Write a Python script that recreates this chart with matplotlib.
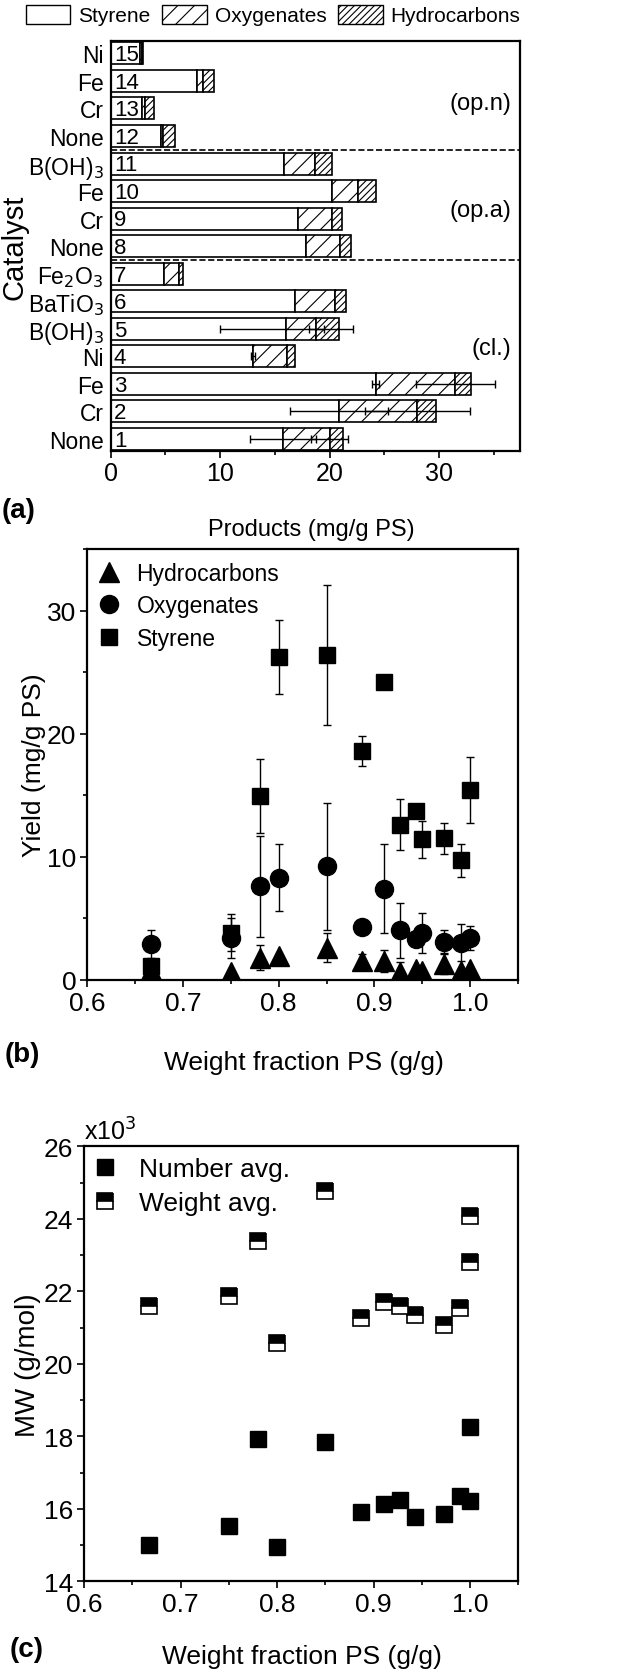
import numpy as np
import matplotlib
matplotlib.use('Agg')
import matplotlib.pyplot as plt
from matplotlib.patches import Patch
from matplotlib.lines import Line2D
from matplotlib.ticker import MultipleLocator, FormatStrFormatter

plt.rcParams['font.family'] = ['Liberation Sans', 'DejaVu Sans']
plt.rcParams['hatch.linewidth'] = 0.8
plt.rcParams['axes.linewidth'] = 1.6

# Panel (a): product yields per catalyst (bar 1 at the bottom)
bar_numbers = list(range(1, 16))
catalysts = ['None', 'Cr', 'Fe', 'Ni', 'B(OH)$_3$', 'BaTiO$_3$', 'Fe$_2$O$_3$',
             'None', 'Cr', 'Fe', 'B(OH)$_3$', 'None', 'Cr', 'Fe', 'Ni']
styrene = [15.75, 20.85, 24.2, 13.0, 16.05, 16.85, 4.9, 17.85, 17.1, 20.25, 15.8, 4.6, 2.9, 7.85, 2.7]
oxygenates = [4.25, 7.15, 7.3, 3.15, 2.75, 3.65, 1.35, 3.1, 3.15, 2.35, 2.85, 0.2, 0.2, 0.55, 0.15]
hydrocarbons = [1.2, 1.7, 1.45, 0.7, 2.1, 1.0, 0.35, 1.05, 0.85, 1.6, 1.55, 1.1, 0.85, 1.0, 0.15]
styrene_err = [3.05, 4.5, 0.35, 0.2, 6.05, 0, 0, 0, 0, 0, 0, 0, 0, 0, 0]
oxygenates_err = [1.7, 4.8, 3.6, 0, 0.7, 0, 0, 0, 0, 0, 0, 0, 0, 0, 0]
group_names = ['(cl.)', '(op.a)', '(op.n)']
group_pos = [4.3, 9.3, 13.2]
group_breaks = [7.5, 11.5]

# Panel (b): yields vs weight fraction PS
frac_b = [0.667, 0.75, 0.78, 0.80, 0.85, 0.887, 0.91, 0.927, 0.943, 0.95, 0.973, 0.99, 1.0]
styrene_b = [1.1, 3.8, 14.9, 26.2, 26.4, 18.6, 24.2, 12.6, 13.7, 11.4, 11.5, 9.7, 15.4]
styrene_b_err = [0, 1.5, 3.0, 3.0, 5.7, 1.2, 0, 2.05, 0, 1.5, 1.25, 1.35, 2.7]
oxy_b = [2.9, 3.4, 7.6, 8.3, 9.2, 4.3, 7.4, 4.0, 3.3, 3.8, 3.1, 3.0, 3.4]
oxy_b_err = [1.1, 1.6, 4.1, 2.7, 5.2, 0, 3.6, 2.2, 0, 1.65, 0.9, 1.5, 1.0]
hydro_b = [0.8, 0.6, 1.8, 1.9, 2.6, 1.5, 1.5, 0.6, 0.9, 0.7, 1.3, 0.7, 0.9]
hydro_b_err = [0, 0, 1.0, 0, 1.2, 0.6, 0.9, 0.8, 0, 0, 0.8, 0, 0]

# Panel (c): molecular weight (x10^3 g/mol)
frac_c = [0.667, 0.75, 0.78, 0.80, 0.85, 0.887, 0.911, 0.927, 0.943, 0.973, 0.99, 1.0, 1.0]
mn = [15.0, 15.53, 17.93, 14.94, 17.85, 15.9, 16.13, 16.25, 15.78, 15.86, 16.36, 18.26, 16.22]
mw = [21.6, 21.86, 23.4, 20.57, 24.78, 21.26, 21.71, 21.6, 21.35, 21.08, 21.53, 24.07, 22.82]

fig = plt.figure(figsize=(6.25, 16.81), dpi=100)

# ---------------- (a) ----------------
ax1 = fig.add_axes([0.177, 0.731, 0.655, 0.244])
y = np.array(bar_numbers)
s = np.array(styrene)
o = np.array(oxygenates)
h = np.array(hydrocarbons)
ax1.barh(y, s, height=0.8, color='white', edgecolor='black', linewidth=1.2)
ax1.barh(y, o, left=s, height=0.8, color='white', edgecolor='black', linewidth=1.2, hatch='//')
ax1.barh(y, h, left=s + o, height=0.8, color='white', edgecolor='black', linewidth=1.2, hatch='/////')

se = np.array(styrene_err)
oe = np.array(oxygenates_err)
m = se > 0
ax1.errorbar(s[m], y[m], xerr=se[m], fmt='none', ecolor='black', elinewidth=1, capsize=3)
m = oe > 0
ax1.errorbar((s + o)[m], y[m], xerr=oe[m], fmt='none', ecolor='black', elinewidth=1, capsize=3)

for n in bar_numbers:
    ax1.text(0.3, n - 0.05, str(n), fontsize=16, va='center', ha='left')
for yb in group_breaks:
    ax1.axhline(yb, color='black', linestyle='--', linewidth=1.2)
for name, pos in zip(group_names, group_pos):
    ax1.text(36.6, pos, name, fontsize=17, ha='right', va='center')

ax1.set_xlim(0, 37.4)
ax1.set_ylim(0.55, 15.45)
ax1.set_yticks(y)
ax1.set_yticklabels(catalysts, fontsize=16.5)
ax1.tick_params(axis='y', length=0, pad=5)
ax1.xaxis.set_major_locator(MultipleLocator(10))
ax1.xaxis.set_minor_locator(MultipleLocator(5))
ax1.tick_params(axis='x', which='major', direction='out', length=5, width=1.2, labelsize=18, pad=2)
ax1.tick_params(axis='x', which='minor', direction='out', length=3, width=1.2)
ax1.set_ylabel('Catalyst', fontsize=21)
ax1.yaxis.set_label_coords(-0.2, 0.5)

handles = [Patch(facecolor='white', edgecolor='black', label='Styrene'),
           Patch(facecolor='white', edgecolor='black', hatch='//', label='Oxygenates'),
           Patch(facecolor='white', edgecolor='black', hatch='/////', label='Hydrocarbons')]
fig.legend(handles=handles, loc='center', bbox_to_anchor=(273 / 625, 1 - 16 / 1681), ncol=3,
           frameon=False, fontsize=15, handlelength=2.15, handleheight=1.05,
           handletextpad=0.38, columnspacing=0.55, borderpad=0)

fig.text(2 / 625, 1 - 511 / 1681, '(a)', fontsize=20, fontweight='bold', va='center', ha='left')
fig.text(311 / 625, 1 - 530 / 1681, 'Products (mg/g PS)', fontsize=17, va='center', ha='center')

# ---------------- (b) ----------------
ax2 = fig.add_axes([0.1397, 0.4166, 0.689, 0.2562])
ax2.errorbar(frac_b, hydro_b, yerr=hydro_b_err, fmt='^', color='black', markersize=14,
             ecolor='black', elinewidth=1, capsize=3)
ax2.errorbar(frac_b, oxy_b, yerr=oxy_b_err, fmt='o', color='black', markersize=13,
             ecolor='black', elinewidth=1, capsize=3)
ax2.errorbar(frac_b, styrene_b, yerr=styrene_b_err, fmt='s', color='black', markersize=11,
             ecolor='black', elinewidth=1, capsize=3)
ax2.set_xlim(0.6, 1.05)
ax2.set_ylim(0, 35)
ax2.xaxis.set_major_locator(MultipleLocator(0.1))
ax2.xaxis.set_minor_locator(MultipleLocator(0.05))
ax2.yaxis.set_major_locator(MultipleLocator(10))
ax2.yaxis.set_minor_locator(MultipleLocator(5))
ax2.xaxis.set_major_formatter(FormatStrFormatter('%.1f'))
ax2.tick_params(which='major', direction='out', length=5, width=1.2, labelsize=19, pad=3)
ax2.tick_params(which='minor', direction='out', length=3, width=1.2)
ax2.set_ylabel('Yield (mg/g PS)', fontsize=19)
ax2.yaxis.set_label_coords(-0.095, 0.5)
hb = [Line2D([], [], marker='^', color='black', linestyle='none', markersize=14),
      Line2D([], [], marker='o', color='black', linestyle='none', markersize=13),
      Line2D([], [], marker='s', color='black', linestyle='none', markersize=11)]
ax2.legend(hb, ['Hydrocarbons', 'Oxygenates', 'Styrene'], loc='upper left', frameon=False,
           fontsize=16.5, handlelength=0.8, handletextpad=0.8, labelspacing=0.42,
           borderaxespad=0.15)

fig.text(5 / 625, 1 - 1055 / 1681, '(b)', fontsize=20, fontweight='bold', va='center', ha='left')
fig.text(304 / 625, 1 - 1063 / 1681, 'Weight fraction PS (g/g)', fontsize=19, va='center', ha='center')

# ---------------- (c) ----------------
ax3 = fig.add_axes([0.1344, 0.0587, 0.695, 0.2588])
ax3.plot(frac_c, mn, 's', color='black', markersize=12, label='Number avg.')
ax3.plot(frac_c, mw, 's', markersize=12, fillstyle='top', markerfacecolor='black',
         markerfacecoloralt='white', markeredgecolor='black', markeredgewidth=1.2, label='Weight avg.')
ax3.set_xlim(0.6, 1.05)
ax3.set_ylim(14, 26)
ax3.xaxis.set_major_locator(MultipleLocator(0.1))
ax3.xaxis.set_minor_locator(MultipleLocator(0.05))
ax3.yaxis.set_major_locator(MultipleLocator(2))
ax3.yaxis.set_minor_locator(MultipleLocator(1))
ax3.xaxis.set_major_formatter(FormatStrFormatter('%.1f'))
ax3.tick_params(which='major', direction='out', length=5, width=1.2, labelsize=19, pad=3)
ax3.tick_params(which='minor', direction='out', length=3, width=1.2)
ax3.set_ylabel('MW (g/mol)', fontsize=20)
ax3.yaxis.set_label_coords(-0.1, 0.5)
ax3.text(0.0, 1.005, 'x10$^3$', transform=ax3.transAxes, fontsize=18, ha='left', va='bottom')
ax3.legend(loc='upper left', frameon=False, fontsize=19, handlelength=0.8,
           handletextpad=0.9, labelspacing=0.4, borderaxespad=0.0)

fig.text(10 / 625, 1 - 1650 / 1681, '(c)', fontsize=20, fontweight='bold', va='center', ha='left')
fig.text(302 / 625, 1 - 1657 / 1681, 'Weight fraction PS (g/g)', fontsize=19, va='center', ha='center')

fig.savefig('out.png', dpi=100)
